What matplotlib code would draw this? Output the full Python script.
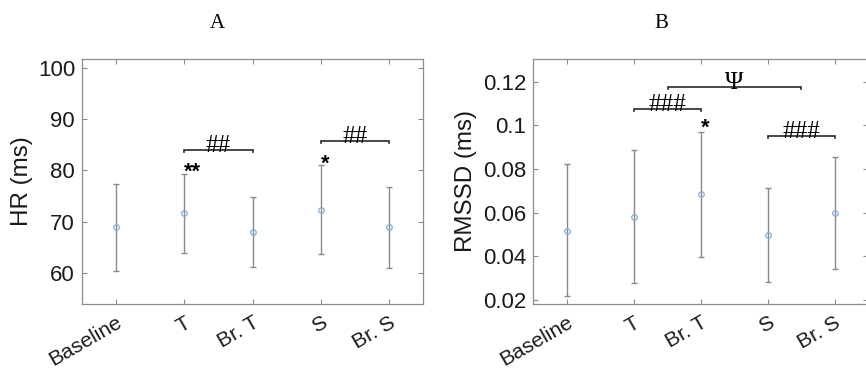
import matplotlib
matplotlib.use("Agg")
import matplotlib.pyplot as plt
from matplotlib.transforms import ScaledTranslation

# ---------------- data ----------------
categories = ["Baseline", "T", "Br. T", "S", "Br. S"]

hr_mean = [69.0, 71.7, 68.0, 72.3, 68.9]
hr_upper = [77.4, 79.3, 74.8, 81.0, 76.7]
hr_lower = [60.5, 63.9, 61.2, 63.7, 61.0]

rmssd_mean = [0.0518, 0.0580, 0.0684, 0.0498, 0.0597]
rmssd_upper = [0.0822, 0.0886, 0.0971, 0.0712, 0.0854]
rmssd_lower = [0.0218, 0.0279, 0.0397, 0.0281, 0.0341]

hr_yticks = [60, 70, 80, 90, 100]
hr_yticklabels = ["60", "70", "80", "90", "100"]
rmssd_yticks = [0.02, 0.04, 0.06, 0.08, 0.10, 0.12]
rmssd_yticklabels = ["0.02", "0.04", "0.06", "0.08", "0.1", "0.12"]

# brackets: (x1, x2, y, label)
hr_brackets = [(2, 3, 84.0, "##"), (4, 5, 85.7, "##")]
rmssd_brackets = [(2, 3, 0.1075, "###"), (2.51, 4.5, 0.1174, "\u03A8"), (4, 5, 0.0953, "###")]

# significance stars: (x, y_baseline, label)
hr_stars = [(2, 78.5, "**"), (4, 80.2, "*")]
rmssd_stars = [(3, 0.0960, "*")]

# ---------------- style ----------------
SANS = "Liberation Sans"
SERIF = "Liberation Serif"
plt.rcParams["font.family"] = SANS

spine_col = "#8c8c8c"
err_col = "#8a8a8a"
mk_col = "#86acd8"
txt_col = "#1a1a1a"

fig = plt.figure(figsize=(8.66, 3.70), dpi=100)
W, H = 866.0, 370.0
axA = fig.add_axes([82 / W, (H - 304) / H, (423 - 82) / W, (304 - 59) / H])
axB = fig.add_axes([533 / W, (H - 304) / H, (868 - 533) / W, (304 - 59) / H])


def draw(ax, mean, upper, lower, ylim, yticks, yticklabels, ylabel, ylab_x,
         brackets, stars, tick_h):
    x = list(range(1, len(categories) + 1))
    yerr = [[m - l for m, l in zip(mean, lower)], [u - m for m, u in zip(mean, upper)]]
    ax.errorbar(x, mean, yerr=yerr, fmt="none", ecolor=err_col, elinewidth=1.0,
                capsize=2.2, capthick=1.0, zorder=2)
    ax.plot(x, mean, "o", ms=4, mfc="none", mec=mk_col, mew=0.9, zorder=3)
    ax.set_xlim(0.5, 5.5)
    ax.set_ylim(*ylim)
    ax.set_xticks(x)
    ax.set_xticklabels(categories, rotation=30, ha="right", va="top",
                       rotation_mode="anchor", fontsize=15.2, color=txt_col)
    shift = ScaledTranslation(2 / 100, 0, fig.dpi_scale_trans)
    for lab in ax.get_xticklabels():
        lab.set_transform(lab.get_transform() + shift)
    ax.set_yticks(yticks)
    ax.set_yticklabels(yticklabels, fontsize=16, color=txt_col)
    ax.tick_params(direction="in", length=3.5, width=0.8, color=spine_col,
                   top=True, right=True, pad=5)
    ax.tick_params(axis="x", pad=6.5)
    for s in ax.spines.values():
        s.set_color(spine_col)
        s.set_linewidth(0.9)
    ax.set_ylabel(ylabel, fontsize=17.4, color=txt_col)
    ax.yaxis.set_label_coords(ylab_x, 0.5)
    ax.yaxis.label.set_verticalalignment("center")

    for x1, x2, y, lab in brackets:
        ax.plot([x1, x1, x2, x2], [y - tick_h, y, y, y - tick_h], color="#2a2a2a",
                lw=1.2, zorder=4, solid_joinstyle="miter")
        ax.annotate(lab, ((x1 + x2) / 2, y), xytext=(0, -1.5), textcoords="offset points",
                    ha="center", va="baseline", fontsize=18, family=SERIF, color="black",
                    zorder=5)
    for xs, ys, lab in stars:
        ax.text(xs, ys, lab, ha="left", va="baseline", fontsize=15.5, color="black",
                fontweight="bold", zorder=5)


draw(axA, hr_mean, hr_upper, hr_lower, (54.0, 101.7), hr_yticks, hr_yticklabels,
     "HR (ms)", -0.176, hr_brackets, hr_stars, 0.4)
draw(axB, rmssd_mean, rmssd_upper, rmssd_lower, (0.0182, 0.1304), rmssd_yticks,
     rmssd_yticklabels, "RMSSD (ms)", -0.2, rmssd_brackets, rmssd_stars, 0.0009)

fig.text(217 / W, 1 - 23 / H, "A", ha="center", va="center", fontsize=15,
         family=SERIF, color="black")
fig.text(661 / W, 1 - 23 / H, "B", ha="center", va="center", fontsize=15,
         family=SERIF, color="black")

fig.savefig("out.png", dpi=100)
